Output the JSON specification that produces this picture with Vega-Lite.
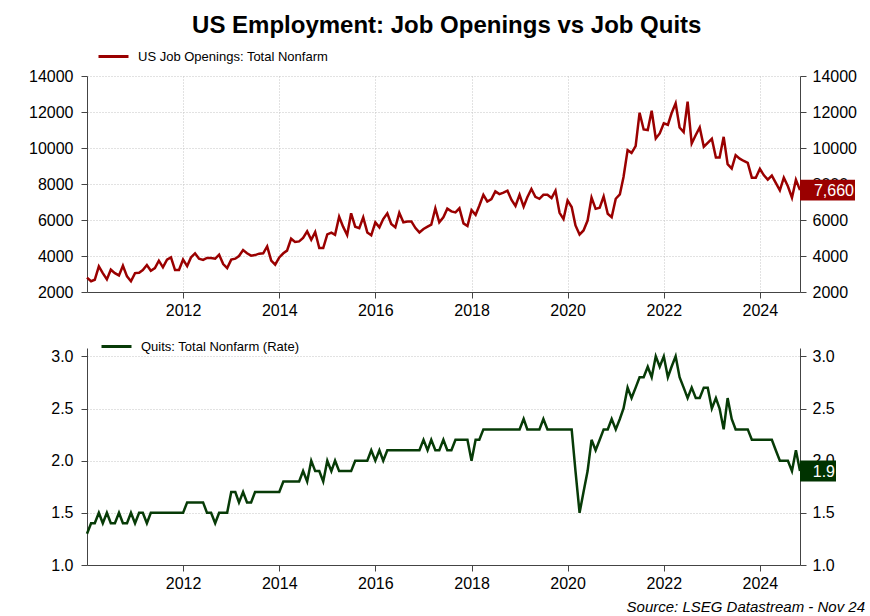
{
  "$schema": "https://vega.github.io/schema/vega-lite/v6.json",
  "background": "white",
  "padding": {"left": 28, "top": 14, "right": 0, "bottom": 0},
  "bounds": "flush",
  "spacing": 56,
  "title": {"text": "US Employment: Job Openings vs Job Quits", "fontSize": 24, "fontWeight": "bold", "color": "#000", "anchor": "middle", "offset": 2},
  "data": {"values": [
    {"date":"2010-01","openings":2800,"quits":1.3},{"date":"2010-02","openings":2600,"quits":1.4},{"date":"2010-03","openings":2680,"quits":1.4},{"date":"2010-04","openings":3420,"quits":1.5},{"date":"2010-05","openings":3050,"quits":1.4},{"date":"2010-06","openings":2700,"quits":1.5},{"date":"2010-07","openings":3240,"quits":1.4},{"date":"2010-08","openings":3050,"quits":1.4},{"date":"2010-09","openings":2920,"quits":1.5},{"date":"2010-10","openings":3460,"quits":1.4},{"date":"2010-11","openings":2870,"quits":1.4},{"date":"2010-12","openings":2600,"quits":1.5},
    {"date":"2011-01","openings":3050,"quits":1.4},{"date":"2011-02","openings":3070,"quits":1.5},{"date":"2011-03","openings":3220,"quits":1.5},{"date":"2011-04","openings":3500,"quits":1.4},{"date":"2011-05","openings":3180,"quits":1.5},{"date":"2011-06","openings":3330,"quits":1.5},{"date":"2011-07","openings":3740,"quits":1.5},{"date":"2011-08","openings":3370,"quits":1.5},{"date":"2011-09","openings":3800,"quits":1.5},{"date":"2011-10","openings":3920,"quits":1.5},{"date":"2011-11","openings":3220,"quits":1.5},{"date":"2011-12","openings":3220,"quits":1.5},
    {"date":"2012-01","openings":3800,"quits":1.5},{"date":"2012-02","openings":3440,"quits":1.6},{"date":"2012-03","openings":3920,"quits":1.6},{"date":"2012-04","openings":4150,"quits":1.6},{"date":"2012-05","openings":3850,"quits":1.6},{"date":"2012-06","openings":3780,"quits":1.6},{"date":"2012-07","openings":3890,"quits":1.5},{"date":"2012-08","openings":3890,"quits":1.5},{"date":"2012-09","openings":3850,"quits":1.4},{"date":"2012-10","openings":4070,"quits":1.5},{"date":"2012-11","openings":3550,"quits":1.5},{"date":"2012-12","openings":3330,"quits":1.5},
    {"date":"2013-01","openings":3800,"quits":1.7},{"date":"2013-02","openings":3850,"quits":1.7},{"date":"2013-03","openings":4000,"quits":1.6},{"date":"2013-04","openings":4330,"quits":1.7},{"date":"2013-05","openings":4150,"quits":1.6},{"date":"2013-06","openings":4020,"quits":1.6},{"date":"2013-07","openings":4050,"quits":1.7},{"date":"2013-08","openings":4130,"quits":1.7},{"date":"2013-09","openings":4150,"quits":1.7},{"date":"2013-10","openings":4530,"quits":1.7},{"date":"2013-11","openings":3740,"quits":1.7},{"date":"2013-12","openings":3520,"quits":1.7},
    {"date":"2014-01","openings":3920,"quits":1.7},{"date":"2014-02","openings":4150,"quits":1.8},{"date":"2014-03","openings":4300,"quits":1.8},{"date":"2014-04","openings":4960,"quits":1.8},{"date":"2014-05","openings":4780,"quits":1.8},{"date":"2014-06","openings":4810,"quits":1.8},{"date":"2014-07","openings":5000,"quits":1.9},{"date":"2014-08","openings":5370,"quits":1.8},{"date":"2014-09","openings":4900,"quits":2.0},{"date":"2014-10","openings":5330,"quits":1.9},{"date":"2014-11","openings":4440,"quits":1.9},{"date":"2014-12","openings":4440,"quits":1.8},
    {"date":"2015-01","openings":5200,"quits":2.0},{"date":"2015-02","openings":5300,"quits":1.9},{"date":"2015-03","openings":5180,"quits":2.0},{"date":"2015-04","openings":6180,"quits":1.9},{"date":"2015-05","openings":5630,"quits":1.9},{"date":"2015-06","openings":5170,"quits":1.9},{"date":"2015-07","openings":6370,"quits":1.9},{"date":"2015-08","openings":5630,"quits":2.0},{"date":"2015-09","openings":5550,"quits":2.0},{"date":"2015-10","openings":6150,"quits":2.0},{"date":"2015-11","openings":5310,"quits":2.0},{"date":"2015-12","openings":5150,"quits":2.1},
    {"date":"2016-01","openings":5870,"quits":2.0},{"date":"2016-02","openings":5590,"quits":2.1},{"date":"2016-03","openings":6050,"quits":2.0},{"date":"2016-04","openings":6370,"quits":2.1},{"date":"2016-05","openings":5780,"quits":2.1},{"date":"2016-06","openings":5590,"quits":2.1},{"date":"2016-07","openings":6400,"quits":2.1},{"date":"2016-08","openings":5870,"quits":2.1},{"date":"2016-09","openings":5920,"quits":2.1},{"date":"2016-10","openings":5920,"quits":2.1},{"date":"2016-11","openings":5550,"quits":2.1},{"date":"2016-12","openings":5310,"quits":2.1},
    {"date":"2017-01","openings":5500,"quits":2.2},{"date":"2017-02","openings":5630,"quits":2.1},{"date":"2017-03","openings":5740,"quits":2.2},{"date":"2017-04","openings":6650,"quits":2.1},{"date":"2017-05","openings":5870,"quits":2.1},{"date":"2017-06","openings":6150,"quits":2.2},{"date":"2017-07","openings":6630,"quits":2.1},{"date":"2017-08","openings":6480,"quits":2.1},{"date":"2017-09","openings":6420,"quits":2.2},{"date":"2017-10","openings":6650,"quits":2.2},{"date":"2017-11","openings":5810,"quits":2.2},{"date":"2017-12","openings":5670,"quits":2.2},
    {"date":"2018-01","openings":6550,"quits":2.0},{"date":"2018-02","openings":6290,"quits":2.2},{"date":"2018-03","openings":6790,"quits":2.2},{"date":"2018-04","openings":7400,"quits":2.3},{"date":"2018-05","openings":7030,"quits":2.3},{"date":"2018-06","openings":7160,"quits":2.3},{"date":"2018-07","openings":7590,"quits":2.3},{"date":"2018-08","openings":7440,"quits":2.3},{"date":"2018-09","openings":7520,"quits":2.3},{"date":"2018-10","openings":7630,"quits":2.3},{"date":"2018-11","openings":7110,"quits":2.3},{"date":"2018-12","openings":6780,"quits":2.3},
    {"date":"2019-01","openings":7400,"quits":2.3},{"date":"2019-02","openings":6740,"quits":2.4},{"date":"2019-03","openings":7260,"quits":2.3},{"date":"2019-04","openings":7720,"quits":2.3},{"date":"2019-05","openings":7290,"quits":2.3},{"date":"2019-06","openings":7180,"quits":2.3},{"date":"2019-07","openings":7400,"quits":2.4},{"date":"2019-08","openings":7400,"quits":2.3},{"date":"2019-09","openings":7220,"quits":2.3},{"date":"2019-10","openings":7630,"quits":2.3},{"date":"2019-11","openings":6400,"quits":2.3},{"date":"2019-12","openings":6050,"quits":2.3},
    {"date":"2020-01","openings":7080,"quits":2.3},{"date":"2020-02","openings":6720,"quits":2.3},{"date":"2020-03","openings":5700,"quits":1.9},{"date":"2020-04","openings":5190,"quits":1.5},{"date":"2020-05","openings":5420,"quits":1.7},{"date":"2020-06","openings":5970,"quits":1.9},{"date":"2020-07","openings":7240,"quits":2.2},{"date":"2020-08","openings":6620,"quits":2.1},{"date":"2020-09","openings":6680,"quits":2.2},{"date":"2020-10","openings":7310,"quits":2.3},{"date":"2020-11","openings":6350,"quits":2.3},{"date":"2020-12","openings":6160,"quits":2.4},
    {"date":"2021-01","openings":7180,"quits":2.3},{"date":"2021-02","openings":7420,"quits":2.4},{"date":"2021-03","openings":8390,"quits":2.5},{"date":"2021-04","openings":9880,"quits":2.7},{"date":"2021-05","openings":9730,"quits":2.6},{"date":"2021-06","openings":10100,"quits":2.7},{"date":"2021-07","openings":11960,"quits":2.8},{"date":"2021-08","openings":11030,"quits":2.8},{"date":"2021-09","openings":11000,"quits":2.9},{"date":"2021-10","openings":12070,"quits":2.8},{"date":"2021-11","openings":10530,"quits":3.0},{"date":"2021-12","openings":10810,"quits":2.9},
    {"date":"2022-01","openings":11370,"quits":3.0},{"date":"2022-02","openings":11290,"quits":2.8},{"date":"2022-03","openings":11930,"quits":2.9},{"date":"2022-04","openings":12480,"quits":3.0},{"date":"2022-05","openings":11140,"quits":2.8},{"date":"2022-06","openings":10880,"quits":2.7},{"date":"2022-07","openings":12580,"quits":2.6},{"date":"2022-08","openings":10250,"quits":2.7},{"date":"2022-09","openings":10720,"quits":2.6},{"date":"2022-10","openings":11140,"quits":2.6},{"date":"2022-11","openings":10070,"quits":2.7},{"date":"2022-12","openings":10290,"quits":2.7},
    {"date":"2023-01","openings":10510,"quits":2.5},{"date":"2023-02","openings":9470,"quits":2.6},{"date":"2023-03","openings":9470,"quits":2.5},{"date":"2023-04","openings":10620,"quits":2.3},{"date":"2023-05","openings":9100,"quits":2.6},{"date":"2023-06","openings":8860,"quits":2.4},{"date":"2023-07","openings":9600,"quits":2.3},{"date":"2023-08","openings":9410,"quits":2.3},{"date":"2023-09","openings":9280,"quits":2.3},{"date":"2023-10","openings":9170,"quits":2.3},{"date":"2023-11","openings":8350,"quits":2.2},{"date":"2023-12","openings":8350,"quits":2.2},
    {"date":"2024-01","openings":8840,"quits":2.2},{"date":"2024-02","openings":8480,"quits":2.2},{"date":"2024-03","openings":8240,"quits":2.2},{"date":"2024-04","openings":8470,"quits":2.2},{"date":"2024-05","openings":8060,"quits":2.1},{"date":"2024-06","openings":7650,"quits":2.0},{"date":"2024-07","openings":8350,"quits":2.0},{"date":"2024-08","openings":7870,"quits":2.0},{"date":"2024-09","openings":7240,"quits":1.9},{"date":"2024-10","openings":8240,"quits":2.1},{"date":"2024-11","openings":7660,"quits":1.9}
  ]},
  "resolve": {"scale": {"color": "independent"}, "legend": {"color": "independent"}},
  "vconcat": [
    {
      "width": 713, "height": 216,
      "encoding": {
        "x": {"field": "date", "type": "temporal", "title": null, "scale": {"type": "utc"},
          "axis": {"values": [{"year": 2012, "utc": true}, {"year": 2014, "utc": true}, {"year": 2016, "utc": true}, {"year": 2018, "utc": true}, {"year": 2020, "utc": true}, {"year": 2022, "utc": true}, {"year": 2024, "utc": true}], "format": "%Y", "grid": true, "labelPadding": 4}}
      },
      "layer": [
        {"mark": {"type": "line", "strokeWidth": 2.5, "strokeJoin": "miter"},
         "encoding": {
           "y": {"field": "openings", "type": "quantitative", "title": null, "scale": {"domain": [2000, 14000], "nice": false},
             "axis": {"orient": "left", "values": [2000, 4000, 6000, 8000, 10000, 12000, 14000], "format": "d", "grid": true, "labelPadding": 8}},
           "color": {"datum": "US Job Openings: Total Nonfarm", "scale": {"range": ["#9a0000"]},
             "legend": {"orient": "none", "legendX": 10, "legendY": -36, "title": null}}
         }},
        {"transform": [{"filter": "utcyear(datum.date) == 2024 && utcmonth(datum.date) == 10"}],
         "mark": {"type": "point", "shape": "M0,-0.19H1V0.19H0Z", "size": 12100, "filled": true, "color": "#9a0000", "opacity": 1, "strokeWidth": 0},
         "encoding": {
           "y": {"field": "openings", "type": "quantitative", "title": null,
             "axis": {"orient": "right", "values": [2000, 4000, 6000, 8000, 10000, 12000, 14000], "format": "d", "grid": false, "labelPadding": 6}}
         }},
        {"transform": [{"filter": "utcyear(datum.date) == 2024 && utcmonth(datum.date) == 10"}],
         "mark": {"type": "text", "align": "right", "baseline": "middle", "dx": 54, "dy": 1, "fontSize": 16, "color": "white"},
         "encoding": {
           "y": {"field": "openings", "type": "quantitative", "axis": null},
           "text": {"field": "openings", "type": "quantitative", "format": ","}
         }}
      ],
      "resolve": {"axis": {"y": "independent"}}
    },
    {
      "width": 713, "height": 217,
      "title": {"text": "Source: LSEG Datastream - Nov 24", "orient": "bottom", "anchor": "end", "frame": "group", "dx": 65, "offset": 9, "fontSize": 15, "fontStyle": "italic", "fontWeight": "normal", "color": "#000"},
      "encoding": {
        "x": {"field": "date", "type": "temporal", "title": null, "scale": {"type": "utc"},
          "axis": {"values": [{"year": 2012, "utc": true}, {"year": 2014, "utc": true}, {"year": 2016, "utc": true}, {"year": 2018, "utc": true}, {"year": 2020, "utc": true}, {"year": 2022, "utc": true}, {"year": 2024, "utc": true}], "format": "%Y", "grid": false, "labelPadding": 4}}
      },
      "layer": [
        {"mark": {"type": "line", "strokeWidth": 2.5, "strokeJoin": "miter"},
         "encoding": {
           "y": {"field": "quits", "type": "quantitative", "title": null, "scale": {"domain": [1, 3.08], "nice": false},
             "axis": {"orient": "left", "values": [1, 1.5, 2, 2.5, 3], "format": ".1f", "grid": true, "labelPadding": 8}},
           "color": {"datum": "Quits: Total Nonfarm (Rate)", "scale": {"range": ["#073b07"]},
             "legend": {"orient": "none", "legendX": 13, "legendY": -18, "title": null}}
         }},
        {"transform": [{"filter": "utcyear(datum.date) == 2024 && utcmonth(datum.date) == 10"}],
         "mark": {"type": "point", "shape": "M0,-0.292H1V0.292H0Z", "size": 5184, "filled": true, "color": "#003300", "opacity": 1, "strokeWidth": 0},
         "encoding": {
           "y": {"field": "quits", "type": "quantitative", "title": null,
             "axis": {"orient": "right", "values": [1, 1.5, 2, 2.5, 3], "format": ".1f", "grid": false, "labelPadding": 6}}
         }},
        {"transform": [{"filter": "utcyear(datum.date) == 2024 && utcmonth(datum.date) == 10"}],
         "mark": {"type": "text", "align": "right", "baseline": "middle", "dx": 35, "dy": 1, "fontSize": 16, "color": "white"},
         "encoding": {
           "y": {"field": "quits", "type": "quantitative", "axis": null},
           "text": {"field": "quits", "type": "quantitative", "format": ".1f"}
         }}
      ],
      "resolve": {"axis": {"y": "independent"}}
    }
  ],
  "config": {
    "font": "Liberation Sans",
    "view": {"stroke": null},
    "axis": {"labelFontSize": 16, "labelColor": "#000", "domainColor": "#444", "tickColor": "#444", "tickSize": 6, "gridColor": "#c4c4c4", "gridDash": [1, 2], "gridWidth": 1, "labelFlush": false, "labelOverlap": false},
    "legend": {"symbolType": "stroke", "symbolSize": 900, "symbolStrokeWidth": 3, "labelFontSize": 13, "labelColor": "#000", "labelOffset": 8, "padding": 0, "labelLimit": 0}
  }
}
